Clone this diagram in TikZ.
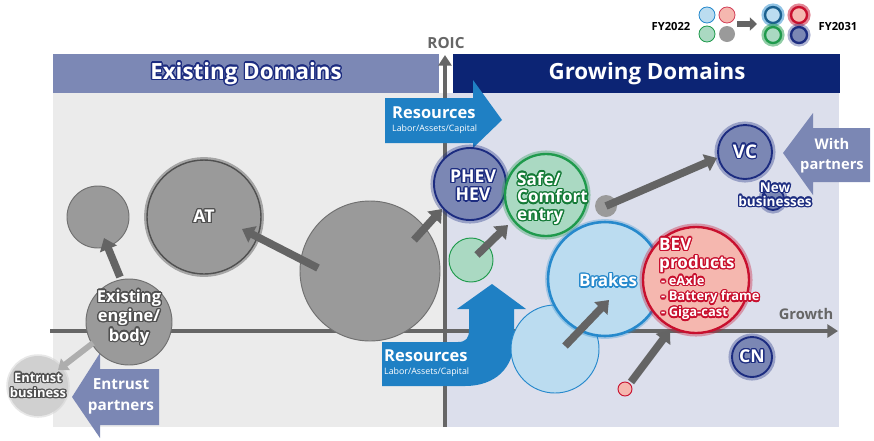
\documentclass[tikz,border=0pt]{standalone}
\usepackage{fontspec}
\setmainfont{Open Sans}
\usepackage[copies]{contour}
\usetikzlibrary{arrows.meta}
\contourlength{1.1pt}

\definecolor{exhead}{HTML}{7C88B5}
\definecolor{grhead}{HTML}{0C2474}
\definecolor{exbg}{HTML}{EBEBEB}
\definecolor{grbg}{HTML}{DCDFEC}
\definecolor{axisgray}{HTML}{666666}
\definecolor{bubgray}{HTML}{9A9A9A}
\definecolor{bubedge}{HTML}{707070}
\definecolor{arrgray}{HTML}{646464}
\definecolor{slate}{HTML}{7B87B4}
\definecolor{navyedge}{HTML}{1C2C80}
\definecolor{resblue}{HTML}{1F80C4}
\definecolor{ltblue}{HTML}{BBDCF0}
\definecolor{blueedge}{HTML}{2689CC}
\definecolor{ltgreen}{HTML}{AAD9C2}
\definecolor{greenedge}{HTML}{1F9A4C}
\definecolor{greentext}{HTML}{147A36}
\definecolor{ltred}{HTML}{F5B7AF}
\definecolor{rededge}{HTML}{C8102E}
\definecolor{entgray}{HTML}{D0D0D0}
\definecolor{textgray}{HTML}{505050}

\tikzset{bub/.style={circle, minimum size={2*#1*0.85pt}, inner sep=0pt}}
\tikzstyle{graybub}=[fill=bubgray, draw=bubedge, line width=0.8pt]
\tikzstyle{slatebub}=[fill=slate, draw=navyedge, line width=1.6pt,
	preaction={draw=navyedge, opacity=.35, line width=6pt}]
\tikzstyle{fatarrow}=[draw=arrgray, line width=6.5pt,
	-{Triangle[length=10pt,width=15pt]}]
\tikzstyle{lbl}=[text=white, align=center, inner sep=0pt, font=\bfseries]
\tikzstyle{axis}=[draw=axisgray, line width=3.2pt,
	-{Triangle[length=9pt,width=11pt]}]
\newcommand{\fsz}[2]{\fontsize{#1}{#2}\selectfont}

\begin{document}
\begin{tikzpicture}[x=0.85pt,y=-0.85pt]
\useasboundingbox (0,0) rectangle (874,440);

% Domains
\fill[exbg] (53,93) rectangle (445,427);
\fill[grbg] (445,93) rectangle (839,427);
\fill[exhead] (53,54) rectangle (439,93);
\fill[grhead] (453,54) rectangle (840,93);
\node[lbl, font=\bfseries\fsz{19}{22}] (exlabel) at (246,74) {\contour{navyedge}{Existing Domains}};
\node[lbl, font=\bfseries\fsz{19}{22}] (grlabel) at (647,74) {Growing Domains};

% Axes
\coordinate (ybot) at (445,427);
\coordinate (ytop) at (445,55);
\coordinate (xleft) at (50,331);
\coordinate (xright) at (838,331);
\draw[axis] (ybot) -- (ytop);
\draw[axis] (xleft) -- (xright);
\node[text=axisgray, font=\bfseries\fsz{13}{15}] (roic) at (446,43) {ROIC};
\node[text=axisgray, font=\bfseries\fsz{12.5}{15}] (growth) at (806,314) {Growth};

% Resources arrows
\fill[resblue] (385,98) -- (473,98) -- (473,80) -- (502,120) -- (473,148)
	-- (473,143) -- (385,143) -- cycle;
\node[text=white, align=left, anchor=west, inner sep=0pt] (restop) at (392,120)
	{{\bfseries\fsz{14}{16}Resources}\\[-1pt]{\fsz{7.5}{9}Labor/Assets/Capital}};
\fill[resblue] (382,342) -- (458,342) .. controls (466,342) and (469,338) .. (469,330)
	-- (469,309) -- (457,309) -- (492,284) -- (526,309) -- (514,309) -- (514,340)
	.. controls (514,368) and (495,386) .. (465,386) -- (382,386) -- cycle;
\node[text=white, align=left, anchor=west, inner sep=0pt] (resbot) at (384,363)
	{{\bfseries\fsz{14}{16}Resources}\\[-1pt]{\fsz{7.5}{9}Labor/Assets/Capital}};

% Partner arrows
\fill[slate] (870,128) -- (813,128) -- (813,113) -- (783,153) -- (813,195)
	-- (813,182) -- (870,182) -- cycle;
\node[lbl, font=\bfseries\fsz{12.5}{17}] (withp) at (832,156) {With\\partners};
\fill[slate] (159,369) -- (100,369) -- (100,353) -- (72,397) -- (100,438)
	-- (100,425) -- (159,425) -- cycle;
\node[lbl, font=\bfseries\fsz{13}{18}] (entp) at (121,396) {Entrust\\partners};

% Existing domain bubbles
\node[bub=31, graybub] (sg) at (98,217) {};
\node[bub=57, graybub, draw=textgray, line width=1.2pt,
	preaction={draw=textgray, opacity=.45, line width=5pt}] (at) at (204,217) {};
\node[bub=70, graybub] (big) at (370,271) {};
\node[bub=43, graybub] (eng) at (129,322) {};
\node[bub=30, fill=entgray, preaction={draw=entgray, opacity=.5, line width=3pt}] (ent) at (38,386) {};

% Growing domain bubbles
\node[bub=36, slatebub] (phev) at (470,184) {};
\node[bub=22, fill=ltgreen, draw=greenedge, line width=0.8pt] (sgreen) at (471,260) {};
\node[bub=41, fill=ltgreen, draw=greenedge, line width=2pt,
	preaction={draw=greenedge, opacity=.35, line width=6pt}] (safe) at (546,195) {};
\node[bub=11, fill=bubgray] (sgray) at (606,206) {};
\node[bub=44, fill=ltblue, draw=blueedge, line width=0.8pt] (lblue) at (555,349) {};
\node[bub=57, fill=ltblue, draw=blueedge, line width=2.2pt,
	preaction={draw=blueedge, opacity=.3, line width=5pt}] (brakes) at (605,279) {};
\node[bub=53, fill=ltred, draw=rededge, line width=2pt,
	preaction={draw=rededge, opacity=.35, line width=6pt}] (bev) at (696,280) {};
\node[bub=7, fill=ltred, draw=rededge, line width=0.8pt] (pink) at (625,389) {};
\node[bub=27, slatebub] (vc) at (745,152) {};
\node[bub=11, slatebub] (newb) at (773,199) {};
\node[bub=20, slatebub] (cn) at (752,357) {};

% Moves
\draw[fatarrow] ([shift={(-9,-45)}]eng.center) -- ([shift={(6,21)}]sg.center);
\draw[fatarrow] ([shift={(-52,-3)}]big.center) -- ([shift={(38,12)}]at.center);
\draw[fatarrow] ([shift={(44,-31)}]big.center) -- ([shift={(-28,25)}]phev.center);
\draw[fatarrow] ([shift={(6,-5)}]sgreen.center) -- ([shift={(-38,30)}]safe.center);
\draw[fatarrow] (sgray.center) -- ([shift={(-28,6)}]vc.center);
\draw[fatarrow] ([shift={(10,-3)}]lblue.center) -- ([shift={(4,21)}]brakes.center);
\draw[fatarrow] ([shift={(6,-7)}]pink.center) -- ([shift={(-26,50)}]bev.center);
\draw[draw=bubgray!80, line width=5pt, -{Triangle[length=8pt,width=12pt]}]
	([shift={(-36,21)}]eng.center) -- ([shift={(20,-16)}]ent.center);

% Bubble texts
\node[lbl, font=\bfseries\fsz{15}{17}] (attxt) at (at.center) {\contour{textgray}{AT}};
\node[lbl, font=\bfseries\fsz{14}{16.5}] (engtxt) at ([shift={(0,-4)}]eng.center)
	{\contour{textgray}{Existing}\\\contour{textgray}{engine/}\\\contour{textgray}{body}};
\node[lbl, font=\bfseries\fsz{11}{13}] (enttxt) at (ent.center)
	{\contour{textgray}{Entrust}\\\contour{textgray}{business}};
\node[lbl, font=\bfseries\fsz{15}{15.5}] (phevtxt) at ([shift={(3,2)}]phev.center)
	{\contour{navyedge}{PHEV}\\\contour{navyedge}{HEV}};
\node[lbl, align=left, anchor=west, font=\bfseries\fsz{14.5}{15}] (safetxt) at (517,199)
	{\contour{greentext}{Safe/}\\\contour{greentext}{Comfort}\\\contour{greentext}{entry}};
\node[lbl, font=\bfseries\fsz{14.5}{17}] (braketxt) at ([shift={(3,2)}]brakes.center)
	{\contour{blueedge}{Brakes}};
\node[lbl, align=left, anchor=west, font=\bfseries\fsz{14.5}{15.5}] (bevtxt) at (659,256)
	{\contour{rededge}{BEV}\\\contour{rededge}{products}};
\node[lbl, align=left, anchor=north west, font=\bfseries\fsz{11}{13.5}] (bevlist) at (661,275)
	{\contour{rededge}{- eAxle}\\\contour{rededge}{- Battery frame}\\\contour{rededge}{- Giga-cast}};
\node[lbl, font=\bfseries\fsz{16}{18}] (vctxt) at (vc.center) {\contour{navyedge}{VC}};
\node[lbl, font=\bfseries\fsz{11.5}{12}] (newbtxt) at (775,195)
	{\contour{navyedge}{New}\\\contour{navyedge}{businesses}};
\node[lbl, font=\bfseries\fsz{15}{17}] (cntxt) at (cn.center) {\contour{navyedge}{CN}};

% Legend
\node[font=\bfseries\fsz{9.5}{11}] (fy22) at (671,26) {FY2022};
\node[bub=8, fill=ltblue, draw=blueedge, line width=0.7pt] (l1) at (707,15) {};
\node[bub=8, fill=ltred, draw=rededge!80, line width=0.7pt] (l2) at (727,15) {};
\node[bub=8, fill=ltgreen, draw=greenedge, line width=0.7pt] (l3) at (707,34) {};
\node[bub=8, fill=bubgray] (l4) at (727,34) {};
\coordinate (legs) at (737,24);
\coordinate (lege) at (757,24);
\draw[draw=arrgray, line width=5pt, -{Triangle[length=6pt,width=11pt]}] (legs) -- (lege);
\node[bub=8, fill=ltblue, draw=blueedge!70!black, line width=2pt,
	preaction={draw=blueedge, opacity=.5, line width=6pt}] (r1) at (773,15) {};
\node[bub=8, fill=ltred, draw=rededge, line width=2pt,
	preaction={draw=rededge, opacity=.5, line width=6pt}] (r2) at (799,15) {};
\node[bub=8, fill=ltgreen, draw=greenedge, line width=2pt,
	preaction={draw=greenedge, opacity=.5, line width=6pt}] (r3) at (773,35) {};
\node[bub=8, slatebub, line width=2pt] (r4) at (799,35) {};
\node[font=\bfseries\fsz{9.5}{11}] (fy31) at (838,26) {FY2031};
\end{tikzpicture}
\end{document}
